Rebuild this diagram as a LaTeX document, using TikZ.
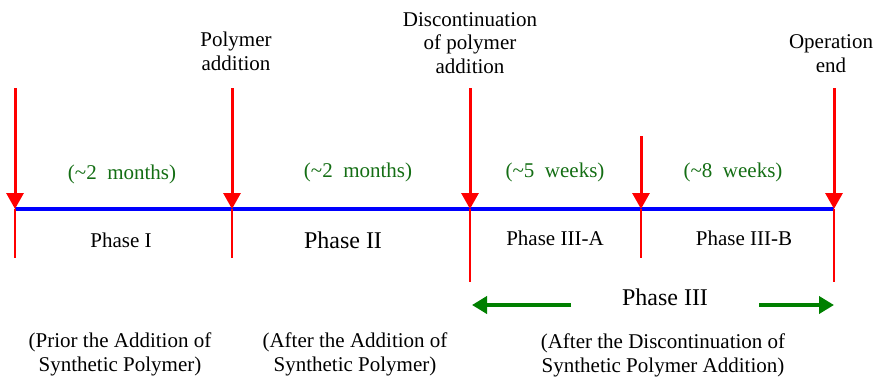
\documentclass[tikz,border=0pt]{standalone}
\usepackage{fontspec}
\setmainfont{Liberation Serif}
\usetikzlibrary{positioning,arrows.meta}
\definecolor{evtred}{RGB}{255,0,0}
\definecolor{axisblue}{RGB}{0,0,255}
\definecolor{durgreen}{RGB}{20,110,20}
\definecolor{spangreen}{RGB}{0,128,0}
\tikzset{
  evt/.style={evtred,line width=3pt,-{Triangle[width=17pt,length=16pt]}},
  tck/.style={evtred,line width=1.3pt},
  axisline/.style={axisblue,line width=4pt},
  span/.style={spangreen,line width=4pt,-{Triangle[width=17pt,length=15pt]}},
  lab/.style={font=\fontsize{21}{23.5}\selectfont,align=center,inner sep=0pt,anchor=base},
  dur/.style={lab,text=durgreen},
  biglab/.style={font=\fontsize{24}{27}\selectfont,inner sep=0pt,anchor=base}
}
\begin{document}
\begin{tikzpicture}[x=1pt,y=-1pt]
    \useasboundingbox (0,0) rectangle (876,376);
    % events on the time line
    \coordinate (t0) at (15,209);   \coordinate (t1) at (232,209);
    \coordinate (t2) at (470,209);  \coordinate (t3) at (641,209);
    \coordinate (t4) at (834,209);
    \coordinate (a0) at (15,88);    \coordinate (a1) at (232,88);
    \coordinate (a2) at (470,88);   \coordinate (a3) at (641,136);
    \coordinate (a4) at (834,88);
    \coordinate (b0) at (15,258);   \coordinate (b1) at (232,258);
    \coordinate (b2) at (470,282);  \coordinate (b3) at (641,258);
    \coordinate (b4) at (834,282);
    \draw[axisline] (t0)--(t4);
    \foreach \i in {0,...,4} {
      \draw[tck] (t\i)--(b\i);
      \draw[evt] (a\i)--(t\i);
    }
    % labels above (base = last line)
    \node[lab] (padd) at (236,70) {Polymer\\addition};
    \node[lab] (pdis) at (470,73) {Discontinuation\\of polymer\\addition};
    \node[lab] (oend) at (831,72) {Operation\\end};
    % durations
    \node[dur] (d1) at (122,179) {(\textasciitilde2\ \ months)};
    \node[dur] (d2) at (358,177) {(\textasciitilde2\ \ months)};
    \node[dur] (d3) at (555,177) {(\textasciitilde5\ \ weeks)};
    \node[dur] (d4) at (733,177) {(\textasciitilde8\ \ weeks)};
    % phases
    \node[lab] (ph1) at (121,247) {Phase I};
    \node[biglab] (ph2) at (343,248) {Phase II};
    \node[lab] (ph3a) at (555,245) {Phase III-A};
    \node[lab] (ph3b) at (744,245) {Phase III-B};
    \node[biglab] (ph3) at (665,305) {Phase III};
    \coordinate (sl) at (571,305);  \coordinate (sr) at (759,305);
    \coordinate (el) at (472,305);  \coordinate (er) at (834,305);
    \draw[span] (sl)--(el);
    \draw[span] (sr)--(er);
    % descriptions
    \node[lab] (ds1) at (120,371) {(Prior the Addition of\\Synthetic Polymer)};
    \node[lab] (ds2) at (355,371) {(After the Addition of\\Synthetic Polymer)};
    \node[lab] (ds3) at (663,372) {(After the Discontinuation of\\Synthetic Polymer Addition)};
\end{tikzpicture}
\end{document}
